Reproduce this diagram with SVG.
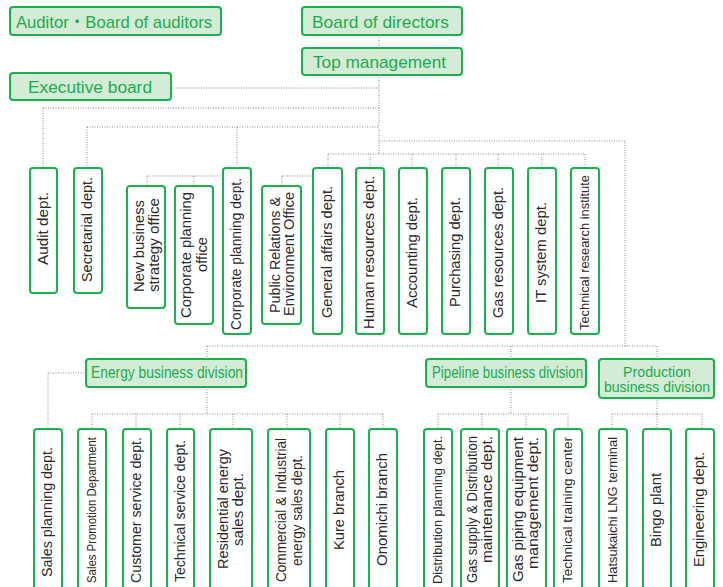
<svg xmlns="http://www.w3.org/2000/svg" width="723" height="587" viewBox="0 0 723 587">
<style>
.hb{fill:#d4ebd6;stroke:#1ab04e;stroke-width:2}
.bx{fill:#ffffff;stroke:#1ab04e;stroke-width:2}
.ht{font-family:"Liberation Sans","Noto Sans CJK JP",Arial,sans-serif;fill:#1aad4e;text-anchor:middle}
.v{font-family:"Liberation Sans",Arial,sans-serif;font-size:14.5px;fill:#2a2a2a;text-anchor:middle}
.s{font-size:13px}
.c{fill:none;stroke:#8a8a8a;stroke-width:1;stroke-dasharray:1 1.5}
</style>
<rect width="723" height="587" fill="#ffffff"/>
<g id="connectors">
<path class="c" d="M379,35V48M379,75V154M171,88H379M43,108H379M43,108V168M87,127H379M87,127V168M237,127V168M379,141H625V346M328,154H585M328,154V168M370,154V168M412,154V168M456,154V168M498,154V168M542,154V168M585,154V168M147,176H223M147,176V186M194,176V186M282,176H313M282,176V186"/>
<path class="c" d="M207,346H657M207,346V359M511,346V359M657,346V359M48,373H86M48,373V429M207,387V414M92,414H383M92,414V429M136,414V429M180,414V429M233,414V429M287,414V429M340,414V429M383,414V429M511,387V414M438,414H568M438,414V429M482,414V429M526,414V429M568,414V429M657,398V414M612,414H702M612,414V429M657,414V429M702,414V429"/>
</g>
<g id="auditors"><rect class="hb" x="10" y="7" width="211" height="28" rx="3"/><text class="ht" x="114" y="27.5" font-size="17" textLength="196" lengthAdjust="spacingAndGlyphs">Auditor・Board of auditors</text></g>
<g id="board"><rect class="hb" x="302" y="7" width="160" height="28" rx="3"/><text class="ht" x="380.5" y="27.5" font-size="17" textLength="137" lengthAdjust="spacingAndGlyphs">Board of directors</text></g>
<g id="topmgmt"><rect class="hb" x="302" y="48" width="160" height="27" rx="3"/><text class="ht" x="379.5" y="67.5" font-size="17" textLength="133" lengthAdjust="spacingAndGlyphs">Top management</text></g>
<g id="exec"><rect class="hb" x="10" y="73" width="161" height="27" rx="3"/><text class="ht" x="90" y="92.5" font-size="17" textLength="124" lengthAdjust="spacingAndGlyphs">Executive board</text></g>

<g id="audit"><rect class="bx" x="30" y="168" width="27" height="125" rx="3"/><text class="v" transform="translate(43.5,228.5) rotate(-90)" y="4" textLength="73" lengthAdjust="spacingAndGlyphs">Audit dept.</text></g>
<g id="secretarial"><rect class="bx" x="74" y="168" width="28" height="125" rx="3"/><text class="v" transform="translate(88,229.5) rotate(-90)" y="4" textLength="105" lengthAdjust="spacingAndGlyphs">Secretarial dept.</text></g>
<g id="newbiz"><rect class="bx" x="127" y="186" width="38" height="122" rx="3"/><text class="v" transform="translate(140,246) rotate(-90)" y="4" textLength="92" lengthAdjust="spacingAndGlyphs">New business</text><text class="v" transform="translate(155,245) rotate(-90)" y="4" textLength="94" lengthAdjust="spacingAndGlyphs">strategy office</text></g>
<g id="corpoffice"><rect class="bx" x="175" y="186" width="38" height="138" rx="3"/><text class="v" transform="translate(187,255) rotate(-90)" y="4" textLength="126" lengthAdjust="spacingAndGlyphs">Corporate planning</text><text class="v" transform="translate(203,254.5) rotate(-90)" y="4" textLength="35" lengthAdjust="spacingAndGlyphs">office</text></g>
<g id="corpdept"><rect class="bx" x="223" y="168" width="28" height="166" rx="3"/><text class="v" transform="translate(237,254) rotate(-90)" y="4" textLength="152" lengthAdjust="spacingAndGlyphs">Corporate planning dept.</text></g>
<g id="pr"><rect class="bx" x="262" y="186" width="39" height="138" rx="3"/><text class="v" transform="translate(276,255) rotate(-90)" y="4" textLength="116" lengthAdjust="spacingAndGlyphs">Public Relations &amp;</text><text class="v" transform="translate(290,254) rotate(-90)" y="4" textLength="124" lengthAdjust="spacingAndGlyphs">Environment Office</text></g>
<g id="general"><rect class="bx" x="313" y="168" width="29" height="166" rx="3"/><text class="v" transform="translate(327.5,252) rotate(-90)" y="4" textLength="132" lengthAdjust="spacingAndGlyphs">General affairs dept.</text></g>
<g id="hr"><rect class="bx" x="356" y="168" width="28" height="166" rx="3"/><text class="v" transform="translate(370,252.5) rotate(-90)" y="4" textLength="153" lengthAdjust="spacingAndGlyphs">Human resources dept.</text></g>
<g id="accounting"><rect class="bx" x="399" y="168" width="28" height="166" rx="3"/><text class="v" transform="translate(413,252.5) rotate(-90)" y="4" textLength="111" lengthAdjust="spacingAndGlyphs">Accounting dept.</text></g>
<g id="purchasing"><rect class="bx" x="442" y="168" width="28" height="166" rx="3"/><text class="v" transform="translate(456,252) rotate(-90)" y="4" textLength="110" lengthAdjust="spacingAndGlyphs">Purchasing dept.</text></g>
<g id="gasres"><rect class="bx" x="485" y="168" width="28" height="166" rx="3"/><text class="v" transform="translate(499,252.5) rotate(-90)" y="4" textLength="131" lengthAdjust="spacingAndGlyphs">Gas resources dept.</text></g>
<g id="it"><rect class="bx" x="528" y="168" width="28" height="166" rx="3"/><text class="v" transform="translate(542,252.5) rotate(-90)" y="4" textLength="101" lengthAdjust="spacingAndGlyphs">IT system dept.</text></g>
<g id="techres"><rect class="bx" x="571" y="168" width="28" height="166" rx="3"/><text class="v s" transform="translate(585,252.5) rotate(-90)" y="4" textLength="155" lengthAdjust="spacingAndGlyphs">Technical research institute</text></g>

<g id="energy"><rect class="hb" x="86" y="359" width="160" height="28" rx="3"/><text class="ht" x="167" y="378" font-size="16" textLength="152" lengthAdjust="spacingAndGlyphs">Energy business division</text></g>
<g id="pipeline"><rect class="hb" x="426" y="359" width="160" height="28" rx="3"/><text class="ht" x="507.5" y="378" font-size="16" textLength="151" lengthAdjust="spacingAndGlyphs">Pipeline business division</text></g>
<g id="production"><rect class="hb" x="599" y="359" width="115" height="39" rx="3"/><text class="ht" x="657" y="377" font-size="14.5" textLength="68" lengthAdjust="spacingAndGlyphs">Production</text><text class="ht" x="657" y="392" font-size="14.5" textLength="106" lengthAdjust="spacingAndGlyphs">business division</text></g>

<g id="salesplan"><rect class="bx" x="34" y="429" width="28" height="170" rx="3"/><text class="v" transform="translate(48,512) rotate(-90)" y="4" textLength="130" lengthAdjust="spacingAndGlyphs">Sales planning dept.</text></g>
<g id="salespromo"><rect class="bx" x="78" y="429" width="28" height="170" rx="3"/><text class="v s" transform="translate(92,510) rotate(-90)" y="4" textLength="146" lengthAdjust="spacingAndGlyphs">Sales Promotion Department</text></g>
<g id="customer"><rect class="bx" x="123" y="429" width="28" height="170" rx="3"/><text class="v" transform="translate(137,510) rotate(-90)" y="4" textLength="146" lengthAdjust="spacingAndGlyphs">Customer service dept.</text></g>
<g id="techservice"><rect class="bx" x="167" y="429" width="27" height="170" rx="3"/><text class="v" transform="translate(180.5,511) rotate(-90)" y="4" textLength="142" lengthAdjust="spacingAndGlyphs">Technical  service dept.</text></g>
<g id="residential"><rect class="bx" x="210" y="429" width="42" height="170" rx="3"/><text class="v" transform="translate(224,509) rotate(-90)" y="4" textLength="120" lengthAdjust="spacingAndGlyphs">Residential energy</text><text class="v" transform="translate(239,509.5) rotate(-90)" y="4" textLength="73" lengthAdjust="spacingAndGlyphs">sales dept.</text></g>
<g id="commercial"><rect class="bx" x="268" y="429" width="42" height="170" rx="3"/><text class="v" transform="translate(282,510) rotate(-90)" y="4" textLength="144" lengthAdjust="spacingAndGlyphs">Commercial &amp; Industrial</text><text class="v" transform="translate(297.5,510.5) rotate(-90)" y="4" textLength="111" lengthAdjust="spacingAndGlyphs">energy sales dept.</text></g>
<g id="kure"><rect class="bx" x="326" y="429" width="28" height="170" rx="3"/><text class="v" transform="translate(340,510) rotate(-90)" y="4" textLength="80" lengthAdjust="spacingAndGlyphs">Kure branch</text></g>
<g id="onomichi"><rect class="bx" x="369" y="429" width="28" height="170" rx="3"/><text class="v" transform="translate(383,509.5) rotate(-90)" y="4" textLength="113" lengthAdjust="spacingAndGlyphs">Onomichi branch</text></g>

<g id="distplan"><rect class="bx" x="424" y="429" width="28" height="170" rx="3"/><text class="v s" transform="translate(438,510) rotate(-90)" y="4" textLength="148" lengthAdjust="spacingAndGlyphs">Distribution planning dept.</text></g>
<g id="gassupply"><rect class="bx" x="461" y="429" width="38" height="170" rx="3"/><text class="v" transform="translate(472.5,509.5) rotate(-90)" y="4" textLength="147" lengthAdjust="spacingAndGlyphs">Gas supply &amp; Distribution</text><text class="v" transform="translate(487.5,499.5) rotate(-90)" y="4" textLength="127" lengthAdjust="spacingAndGlyphs">maintenance dept.</text></g>
<g id="gaspiping"><rect class="bx" x="507" y="429" width="39" height="170" rx="3"/><text class="v" transform="translate(518.5,509.5) rotate(-90)" y="4" textLength="145" lengthAdjust="spacingAndGlyphs">Gas piping equipment</text><text class="v" transform="translate(534,503) rotate(-90)" y="4" textLength="132" lengthAdjust="spacingAndGlyphs">management dept.</text></g>
<g id="training"><rect class="bx" x="554" y="429" width="28" height="170" rx="3"/><text class="v s" transform="translate(568,510) rotate(-90)" y="4" textLength="146" lengthAdjust="spacingAndGlyphs">Technical training center</text></g>
<g id="hatsukaichi"><rect class="bx" x="599" y="429" width="28" height="170" rx="3"/><text class="v s" transform="translate(613,510) rotate(-90)" y="4" textLength="146" lengthAdjust="spacingAndGlyphs">Hatsukaichi LNG terminal</text></g>
<g id="bingo"><rect class="bx" x="643" y="429" width="28" height="170" rx="3"/><text class="v" transform="translate(657,510) rotate(-90)" y="4" textLength="74" lengthAdjust="spacingAndGlyphs">Bingo plant</text></g>
<g id="engineering"><rect class="bx" x="686" y="429" width="28" height="170" rx="3"/><text class="v" transform="translate(700,509.5) rotate(-90)" y="4" textLength="115" lengthAdjust="spacingAndGlyphs">Engineering dept.</text></g>
</svg>
